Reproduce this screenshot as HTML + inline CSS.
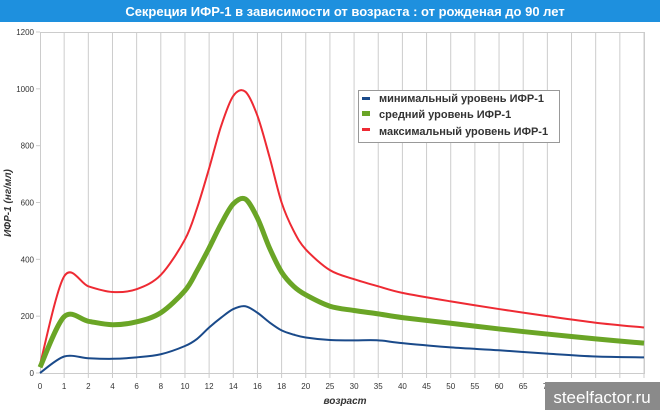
<!DOCTYPE html>
<html><head><meta charset="utf-8"><style>
body{margin:0;width:660px;height:410px;background:#fff;overflow:hidden;font-family:"Liberation Sans",sans-serif}
</style></head><body>
<svg width="660" height="410" xmlns="http://www.w3.org/2000/svg" font-family="Liberation Sans, sans-serif">
<rect x="0" y="0" width="660" height="22" fill="#1e90de"/>
<text x="345" y="16" text-anchor="middle" font-size="13" font-weight="bold" fill="#fff">Секреция ИФР-1 в зависимости от возраста : от рожденая до 90 лет</text>
<g id="grid" stroke="#ccc" stroke-width="1"></g>
<rect x="40.5" y="32.5" width="604" height="341" fill="none" stroke="#ccc"/>
<g id="ylab" font-size="8" fill="#333" text-anchor="end"></g>
<g id="xlab" font-size="8" fill="#333" text-anchor="middle"></g>
<text x="345" y="404" text-anchor="middle" font-size="10" font-style="italic" font-weight="bold" fill="#333">возраст</text>
<text transform="translate(11,203) rotate(-90)" text-anchor="middle" font-size="10" font-style="italic" font-weight="bold" fill="#333">ИФР-1 (нг/мл)</text>
<path id="pr" fill="none" stroke="#ee2a33" stroke-width="2"/>
<path id="pg" fill="none" stroke="#6aa526" stroke-width="5"/>
<path id="pb" fill="none" stroke="#1a4a8a" stroke-width="2"/>
<rect x="358.5" y="90.5" width="201" height="52" fill="#fff" stroke="#999"/>
<rect x="362" y="97" width="8" height="3" fill="#1a4a8a"/>
<rect x="362" y="111" width="8" height="5" fill="#6aa526"/>
<rect x="362" y="128" width="8" height="3" fill="#ee2a33"/>
<g font-size="11" font-weight="bold" fill="#333">
<text x="379" y="102">минимальный уровень ИФР-1</text>
<text x="379" y="118">средний уровень ИФР-1</text>
<text x="379" y="135">максимальный уровень ИФР-1</text>
</g>
<rect x="545" y="382" width="115" height="28" fill="#8a8a8a"/>
<text x="602" y="403" text-anchor="middle" font-size="17" fill="#fff">steelfactor.ru</text>
</svg>
<script>
var X0=40,DX=604/25,Y0=373,SY=341/1200;
var cats=[0,1,2,4,6,8,10,12,14,16,18,20,25,30,35,40,45,50,55,60,65,70,75,80,85,90];
var g=document.getElementById('grid'),xl=document.getElementById('xlab'),yl=document.getElementById('ylab'),ns='http://www.w3.org/2000/svg';
function el(p,t,a){var e=document.createElementNS(ns,t);for(var k in a)e.setAttribute(k,a[k]);p.appendChild(e);return e;}
cats.forEach(function(c,i){var x=X0+i*DX;if(i>0)el(g,'line',{x1:x,x2:x,y1:32,y2:378});var t=el(xl,'text',{x:x,y:389});t.textContent=c;});
[0,200,400,600,800,1000,1200].forEach(function(v){var y=Y0-v*SY;el(g,'line',{x1:36,x2:40,y1:y,y2:y});var t=el(yl,'text',{x:34,y:y+3});t.textContent=v;});
function idx(a){if(a<=2)return a;if(a<=20)return a/2+1;return 11+(a-20)/5;}
function path(pts){var P=pts.map(function(p){return [X0+idx(p[0])*DX,Y0-p[1]*SY];});var d='M'+P[0][0]+','+P[0][1];
for(var i=0;i<P.length-1;i++){var p0=P[i-1]||P[i],p1=P[i],p2=P[i+1],p3=P[i+2]||p2;var t=0.16;
d+=' C'+(p1[0]+(p2[0]-p0[0])*t)+','+(p1[1]+(p2[1]-p0[1])*t)+' '+(p2[0]-(p3[0]-p1[0])*t)+','+(p2[1]-(p3[1]-p1[1])*t)+' '+p2[0]+','+p2[1];}return d;}
document.getElementById('pr').setAttribute('d',path([[0,30],[1,340],[2,305],[4,285],[6,295],[8,345],[10,470],[11,580],[12,720],[13,870],[14,975],[15,990],[16,905],[17,760],[18,600],[19,500],[20,435],[25,362],[30,330],[35,305],[40,282],[50,252],[60,225],[70,200],[80,177],[90,160]]));
document.getElementById('pg').setAttribute('d',path([[0,20],[1,198],[2,182],[4,170],[6,180],[8,212],[10,290],[11,360],[12,440],[13,525],[14,595],[15,612],[16,545],[17,440],[18,355],[19,305],[20,275],[25,235],[30,220],[35,208],[40,195],[50,175],[60,155],[70,137],[80,120],[90,105]]));
document.getElementById('pb').setAttribute('d',path([[0,0],[1,58],[2,52],[4,50],[6,55],[8,66],[10,95],[11,120],[12,160],[13,195],[14,225],[15,235],[16,212],[17,178],[18,150],[19,135],[20,125],[25,116],[30,115],[35,115],[40,105],[50,90],[60,80],[70,68],[80,58],[90,55]]));
</script>
</body></html>
